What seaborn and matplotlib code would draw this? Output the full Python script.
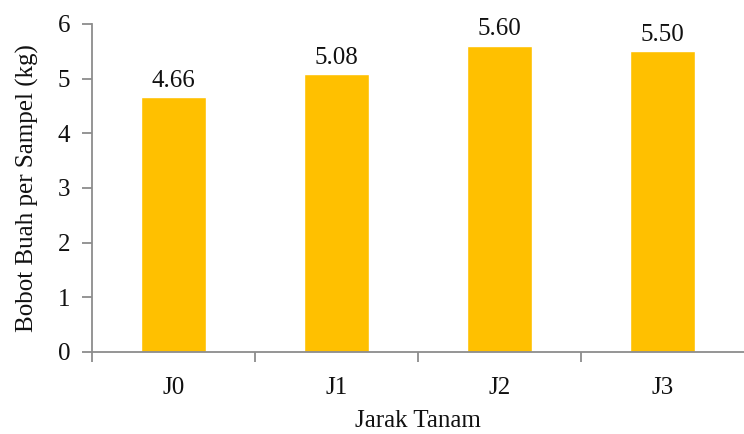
import matplotlib
matplotlib.use("Agg")
import matplotlib.pyplot as plt
import seaborn as sns
import pandas as pd
from matplotlib.ticker import FixedLocator

categories = ["J0", "J1", "J2", "J3"]
bobot = [4.66, 5.08, 5.60, 5.50]
value_labels = ["4.66", "5.08", "5.60", "5.50"]

sns.set_theme(style="white")
plt.rcParams["font.family"] = ["Liberation Serif", "DejaVu Serif"]

df = pd.DataFrame({"Jarak Tanam": categories, "Bobot": bobot})

fig = plt.figure(figsize=(7.44, 4.34), dpi=100)
ax = fig.add_axes([0.124, 0.189, 0.876, 0.756])

sns.barplot(data=df, x="Jarak Tanam", y="Bobot", color="#FFC000",
            saturation=1, width=0.4, ax=ax)

fs = 18
for i, (v, lab) in enumerate(zip(bobot, value_labels)):
    ax.text(i, v + 0.1, lab, ha="center", va="bottom", fontsize=fs,
            color="#111111")

ax.set_ylim(0, 6)
ax.set_xlim(-0.5, 3.5)
ax.set_yticks(range(0, 7))
ax.set_ylabel("Bobot Buah per Sampel (kg)", fontsize=fs, labelpad=13)
ax.set_xlabel("Jarak Tanam", fontsize=fs, labelpad=8)

gray = "#8c8c8c"
for side in ["top", "right"]:
    ax.spines[side].set_visible(False)
for side in ["left", "bottom"]:
    ax.spines[side].set_color(gray)
    ax.spines[side].set_linewidth(1.3)

ax.tick_params(axis="y", which="major", direction="out", length=7,
               width=1.3, color=gray, labelsize=fs, pad=9, left=True,
               labelcolor="#111111")
ax.tick_params(axis="x", which="major", length=0, labelsize=fs, pad=18,
               labelcolor="#111111")
ax.xaxis.label.set_color("#111111")
ax.yaxis.label.set_color("#111111")
ax.xaxis.set_minor_locator(FixedLocator([-0.5, 0.5, 1.5, 2.5]))
ax.tick_params(axis="x", which="minor", direction="out", length=7,
               width=1.3, color=gray, bottom=True)

fig.savefig("out.png", dpi=100)
